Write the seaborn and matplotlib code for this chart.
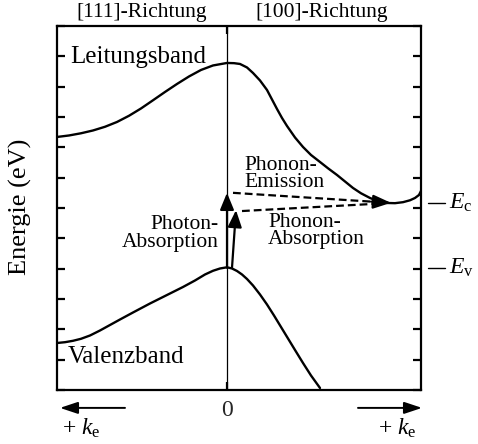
import numpy as np
import pandas as pd
import matplotlib
matplotlib.use("Agg")
import matplotlib.pyplot as plt
import matplotlib.transforms as mtransforms
import seaborn as sns

# ---- data (pixel readings: k_px, E_px) ----
# conduction band
cb_px = [57, 69, 81, 93, 105, 117, 129, 141, 153, 165, 177, 189, 201, 213, 227,
         234, 240, 247, 253, 260, 267, 272, 277, 282, 287, 295, 303, 311, 320, 328,
         337, 345, 353, 361, 370, 378, 387, 395, 403, 410, 415, 419, 421]
cb_py = [137, 135.5, 133.3, 130.5, 126.8, 122, 115.8, 108.5, 100.3, 92, 84, 76.5, 70, 65.5, 63,
         63.2, 64, 67.5, 73, 80.5, 90, 99.5, 109, 118, 126, 137.5, 147, 155, 162, 168.3,
         175, 181.5, 188, 193.3, 198, 201.2, 203, 203.2, 202.2, 200.3, 198, 195, 191]
# valence band
vb_px = [57, 65, 73, 81, 90, 100, 110, 120, 133, 150, 167, 183, 195, 205, 213, 220, 227,
         232, 237, 242, 247, 253, 260, 267, 274, 281, 288, 295, 303, 311, 320]
vb_py = [343, 342.2, 340.8, 338.8, 335.5, 330.5, 325, 319.5, 312.5, 303.5, 295, 287, 280.5,
         274.5, 270.8, 268.5, 267.3,
         268.5, 271, 274.5, 279, 285.5, 294.5, 304.5, 315.5, 327, 338.5, 350, 363, 375.5, 388]

# convert readings to k (arb. units, 0 at Gamma) and energy (tick units)
K0, KS = 227.0, 100.0
E0, ES = 390.0, 30.33
cb_k = [(p - K0) / KS for p in cb_px]
cb_E = [(E0 - p) / ES for p in cb_py]
vb_k = [(p - K0) / KS for p in vb_px]
vb_E = [(E0 - p) / ES for p in vb_py]

E_c = 6.18
E_v = 4.03

# transitions: (k_start, E_start, k_end, E_end)
photon_1 = (0.00, E_v, 0.00, 6.50)
photon_2 = (0.05, E_v, 0.09, 5.93)
phonon_em = (0.06, 6.50, 1.64, 6.17)
phonon_abs = (0.15, 5.90, 1.55, 6.15)

direction_labels = ["[111]-Richtung", "[100]-Richtung"]
band_labels = ["Leitungsband", "Valenzband"]

# ---- style ----
sns.set_theme(style="white")
plt.rcParams["font.family"] = ["Liberation Serif", "DejaVu Serif"]
plt.rcParams["mathtext.fontset"] = "custom"
plt.rcParams["mathtext.rm"] = "Liberation Serif"
plt.rcParams["mathtext.it"] = "Liberation Serif:italic"
plt.rcParams["text.color"] = "black"

fig = plt.figure(figsize=(4.78, 4.44), dpi=100)
ax = fig.add_axes([57 / 478, 54 / 444, 364 / 478, 364 / 444])

cb = pd.DataFrame({"k": cb_k, "E": cb_E})
vb = pd.DataFrame({"k": vb_k, "E": vb_E})
sns.lineplot(data=cb, x="k", y="E", ax=ax, color="black", lw=1.7, sort=False, estimator=None)
sns.lineplot(data=vb, x="k", y="E", ax=ax, color="black", lw=1.7, sort=False, estimator=None)
for ln in ax.get_lines():
    ln.set_solid_joinstyle("round")

ax.axvline(0, color="black", lw=0.9)

ax.set_xlim(-1.70, 1.94)
ax.set_ylim(0, 12)
ax.set_xlabel("")
ax.set_ylabel("")

for s in ax.spines.values():
    s.set_color("black")
    s.set_linewidth(1.6)

ax.set_yticks(np.arange(0, 13, 1))
ax.set_yticklabels([])
ax.set_xticks([0])
ax.set_xticklabels(["0"])
ax.tick_params(axis="y", which="both", direction="in", left=True, right=True,
               length=6, width=1.6, color="black")
ax.tick_params(axis="x", which="both", direction="in", bottom=True, top=True,
               length=6, width=1.6, color="black", labelsize=17, pad=7)

# photon arrows
for (k0, e0, k1, e1) in [photon_1, photon_2]:
    ax.annotate("", xy=(k1, e1), xytext=(k0, e0),
                arrowprops=dict(arrowstyle="-|>,head_length=0.85,head_width=0.35",
                                lw=1.6, color="black", shrinkA=0, shrinkB=0))
# phonon dashed lines
ax.plot([phonon_abs[0], phonon_abs[2]], [phonon_abs[1], phonon_abs[3]],
        color="black", lw=1.6, ls=(0, (3.5, 1.8)))
ax.plot([phonon_em[0], phonon_em[2] - 0.1], [phonon_em[1], phonon_em[3] + 0.02],
        color="black", lw=1.6, ls=(0, (3.5, 1.8)))
ax.annotate("", xy=(phonon_em[2], phonon_em[3]), xytext=(phonon_em[2] - 0.2, phonon_em[3] + 0.04),
            arrowprops=dict(arrowstyle="-|>,head_length=0.9,head_width=0.35",
                            lw=1.6, color="black", shrinkA=0, shrinkB=0))

# labels
fs_small = 15.5
ax.text(-0.85, 12.46, direction_labels[0], ha="center", va="center", fontsize=fs_small, clip_on=False)
ax.text(0.95, 12.46, direction_labels[1], ha="center", va="center", fontsize=fs_small, clip_on=False)
ax.text(-1.57, 10.78, band_labels[0], ha="left", va="baseline", fontsize=18)
ax.text(-1.59, 0.89, band_labels[1], ha="left", va="baseline", fontsize=18)

ax.text(-0.08, 5.16, "Photon-\nAbsorption", ha="right", va="center", multialignment="right",
        fontsize=fs_small, linespacing=0.88)
ax.text(0.17, 7.12, "Phonon-\nEmission", ha="left", va="center", multialignment="left",
        fontsize=fs_small, linespacing=0.88)
ax.text(0.41, 5.24, "Phonon-\nAbsorption", ha="left", va="center", multialignment="left",
        fontsize=fs_small, linespacing=0.88)

# E_c / E_v markers on the right
trans = mtransforms.blended_transform_factory(ax.transAxes, ax.transData)
for lvl, name in [(E_c, "$E_\\mathrm{c}$"), (E_v, "$E_\\mathrm{v}$")]:
    ax.plot([1.020, 1.066], [lvl, lvl], transform=trans, color="black", lw=1.0, clip_on=False)
    ax.text(1.078, lvl, name, transform=trans, ha="left", va="center", fontsize=17, clip_on=False)

# k-direction arrows below the axis
for (k0, k1) in [(-1.02, -1.67), (1.31, 1.95)]:
    ax.annotate("", xy=(k1, -0.59), xytext=(k0, -0.59), xycoords="data", annotation_clip=False,
                arrowprops=dict(arrowstyle="-|>,head_length=0.9,head_width=0.3",
                                lw=1.4, color="black", shrinkA=0, shrinkB=0))
ax.text(-1.46, -1.25, "+ $k_\\mathrm{e}$", ha="center", va="center", fontsize=17, clip_on=False)
ax.text(1.70, -1.25, "+ $k_\\mathrm{e}$", ha="center", va="center", fontsize=17, clip_on=False)

fig.text(20 / 478, 1 - 207 / 444, "Energie (eV)", rotation=90, ha="center", va="center", fontsize=19)

fig.savefig("out.png", dpi=100)
